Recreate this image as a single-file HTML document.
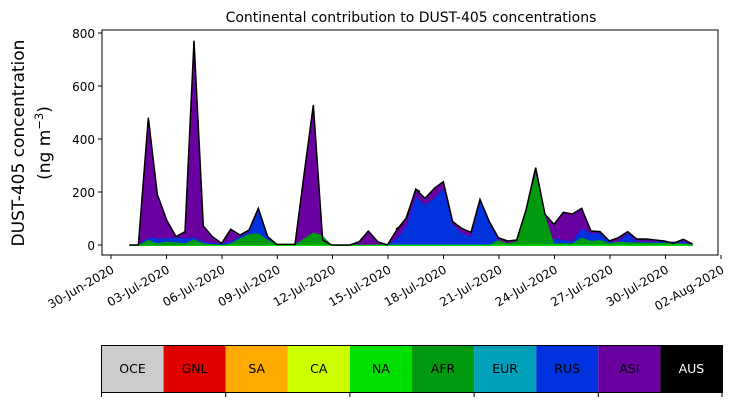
<!DOCTYPE html>
<html><head><meta charset="utf-8"><style>
html,body{margin:0;padding:0;background:#fff;}
svg{display:block;font-family:"DejaVu Sans","Liberation Sans",sans-serif;}
</style></head><body>
<svg width="730" height="402" viewBox="0 0 730 402" xmlns="http://www.w3.org/2000/svg">
<rect width="730" height="402" fill="#fff"/>
<text x="411" y="22" font-size="14" text-anchor="middle">Continental contribution to DUST-405 concentrations</text>
<g font-size="17" text-anchor="middle">
<text transform="translate(24,143) rotate(-90)">DUST-405 concentration</text>
<text transform="translate(50,143) rotate(-90)">(ng m<tspan font-size="11.5" dy="-7">−3</tspan><tspan dy="7">)</tspan></text>
</g>
<g transform="translate(100,25) scale(0.33333)">
<polygon fill="#6a00a0" points="88,660 115,660 145,278 172,508 200,585 228,635 255,620 282,47 310,603 337,635 365,655 392,613 420,630 447,615 475,550 503,635 530,658 558,658 585,658 612,449 640,240 668,645 695,660 722,660 750,660 778,650 805,618 833,650 862,660 890,615 918,580 948,493 960,500 960,662 88,662"/>
<polygon fill="#0033dd" points="88,660 115,660 145,638 172,640 200,640 228,638 255,640 282,637 310,650 337,655 365,655 392,650 420,635 447,622 475,558 503,632 530,658 585,658 640,625 668,650 695,660 862,660 890,640 918,600 948,515 960,520 960,662 88,662"/>
<polygon fill="#009a10" points="88,660 115,660 145,645 172,655 200,650 228,652 255,655 282,643 310,655 337,657 365,660 392,655 420,640 447,627 475,625 503,645 530,658 585,658 640,622 668,632 695,660 960,659 960,662 88,662"/>
<polygon fill="#00dd00" points="88,661 960,659 960,663 88,663"/>
<polyline fill="none" stroke="#000" stroke-width="1.5" vector-effect="non-scaling-stroke" points="88,660 115,660 145,278 172,508 200,585 228,635 255,620 282,47 310,603 337,635 365,655 392,613 420,630 447,615 475,550 503,635 530,658 558,658 585,658 612,449 640,240 668,645 695,660 722,660 750,660 778,650 805,618 833,650 862,660 890,615 918,580 948,493 960,500"/>
</g>
<g transform="translate(400,25) scale(0.33333)">
<polygon fill="#6a00a0" points="0,605 20,578 47,493 75,520 103,490 130,470 158,590 185,610 213,622 240,523 268,590 295,638 323,648 350,645 378,555 407,428 435,568 462,598 490,562 517,567 545,550 573,618 600,620 628,648 655,638 683,620 710,642 738,642 765,645 793,648 820,655 850,643 878,657 878,662 0,662"/>
<polygon fill="#0033dd" points="0,630 20,600 47,515 75,540 103,520 130,490 158,598 185,625 213,635 240,530 268,595 295,648 323,655 350,660 435,660 462,640 490,645 517,650 545,610 573,625 600,625 628,650 655,650 683,625 710,650 850,650 878,660 878,662 0,662"/>
<polygon fill="#009a10" points="0,660 268,660 295,645 323,655 350,650 378,555 407,445 435,570 462,655 517,655 545,638 573,648 600,645 628,655 655,650 683,652 850,655 878,660 878,662 0,662"/>
<polygon fill="#00dd00" points="0,659 878,659 878,663 0,663"/>
<polyline fill="none" stroke="#000" stroke-width="1.5" vector-effect="non-scaling-stroke" points="-12,612 0,605 20,578 47,493 75,520 103,490 130,470 158,590 185,610 213,622 240,523 268,590 295,638 323,648 350,645 378,555 407,428 435,568 462,598 490,562 517,567 545,550 573,618 600,620 628,648 655,638 683,620 710,642 738,642 765,645 793,648 820,655 850,643 878,657"/>
</g>
<rect x="102" y="30" width="616" height="225" fill="none" stroke="#000" stroke-width="1"/>
<g stroke="#000" stroke-width="1">
<line x1="98" y1="245" x2="102" y2="245"/><line x1="98" y1="192" x2="102" y2="192"/><line x1="98" y1="139" x2="102" y2="139"/><line x1="98" y1="86" x2="102" y2="86"/><line x1="98" y1="33" x2="102" y2="33"/>
</g>
<g font-size="12" text-anchor="end">
<text x="95" y="250">0</text><text x="95" y="197">200</text><text x="95" y="144">400</text><text x="95" y="91">600</text><text x="95" y="38">800</text>
</g>
<g stroke="#000" stroke-width="1">
<line x1="111" y1="255" x2="111" y2="259"/><line x1="166.5" y1="255" x2="166.5" y2="259"/><line x1="222" y1="255" x2="222" y2="259"/><line x1="277.3" y1="255" x2="277.3" y2="259"/><line x1="332.5" y1="255" x2="332.5" y2="259"/><line x1="388" y1="255" x2="388" y2="259"/><line x1="443.5" y1="255" x2="443.5" y2="259"/><line x1="499" y1="255" x2="499" y2="259"/><line x1="554.5" y1="255" x2="554.5" y2="259"/><line x1="610" y1="255" x2="610" y2="259"/><line x1="665.5" y1="255" x2="665.5" y2="259"/><line x1="721" y1="255" x2="721" y2="259"/>
</g>
<g font-size="12" text-anchor="end">
<text transform="translate(115,272) rotate(-30)">30-Jun-2020</text>
<text transform="translate(170.5,272) rotate(-30)">03-Jul-2020</text>
<text transform="translate(226,272) rotate(-30)">06-Jul-2020</text>
<text transform="translate(281.3,272) rotate(-30)">09-Jul-2020</text>
<text transform="translate(336.5,272) rotate(-30)">12-Jul-2020</text>
<text transform="translate(392,272) rotate(-30)">15-Jul-2020</text>
<text transform="translate(447.5,272) rotate(-30)">18-Jul-2020</text>
<text transform="translate(503,272) rotate(-30)">21-Jul-2020</text>
<text transform="translate(558.5,272) rotate(-30)">24-Jul-2020</text>
<text transform="translate(614,272) rotate(-30)">27-Jul-2020</text>
<text transform="translate(669.5,272) rotate(-30)">30-Jul-2020</text>
<text transform="translate(725,272) rotate(-30)">02-Aug-2020</text>
</g>
<g>
<rect x="101.5" y="345.5" width="62.1" height="47" fill="#cccccc"/>
<rect x="163.6" y="345.5" width="62.1" height="47" fill="#e00000"/>
<rect x="225.7" y="345.5" width="62.1" height="47" fill="#ffaa00"/>
<rect x="287.8" y="345.5" width="62.1" height="47" fill="#ccff00"/>
<rect x="349.9" y="345.5" width="62.1" height="47" fill="#00e000"/>
<rect x="412" y="345.5" width="62.1" height="47" fill="#009a10"/>
<rect x="474.1" y="345.5" width="62.1" height="47" fill="#00a0bb"/>
<rect x="536.2" y="345.5" width="62.1" height="47" fill="#0033dd"/>
<rect x="598.3" y="345.5" width="62.1" height="47" fill="#6a00a0"/>
<rect x="660.4" y="345.5" width="62.1" height="47" fill="#000000"/>
<rect x="101.5" y="345.5" width="621" height="47" fill="none" stroke="#000" stroke-width="1"/>
</g>
<g font-size="12.5" text-anchor="middle">
<text x="132.5" y="373">OCE</text><text x="194.6" y="373">GNL</text><text x="256.7" y="373">SA</text><text x="318.8" y="373">CA</text><text x="380.9" y="373">NA</text><text x="443" y="373">AFR</text><text x="505.1" y="373">EUR</text><text x="567.2" y="373">RUS</text><text x="629.3" y="373">ASI</text><text x="691.4" y="373" fill="#fff">AUS</text>
</g>
<g stroke="#000" stroke-width="1">
<line x1="101.5" y1="392" x2="101.5" y2="397"/><line x1="225.7" y1="392" x2="225.7" y2="397"/><line x1="349.9" y1="392" x2="349.9" y2="397"/><line x1="474.1" y1="392" x2="474.1" y2="397"/><line x1="598.3" y1="392" x2="598.3" y2="397"/><line x1="722" y1="392" x2="722" y2="397"/>
</g>
</svg>
</body></html>
